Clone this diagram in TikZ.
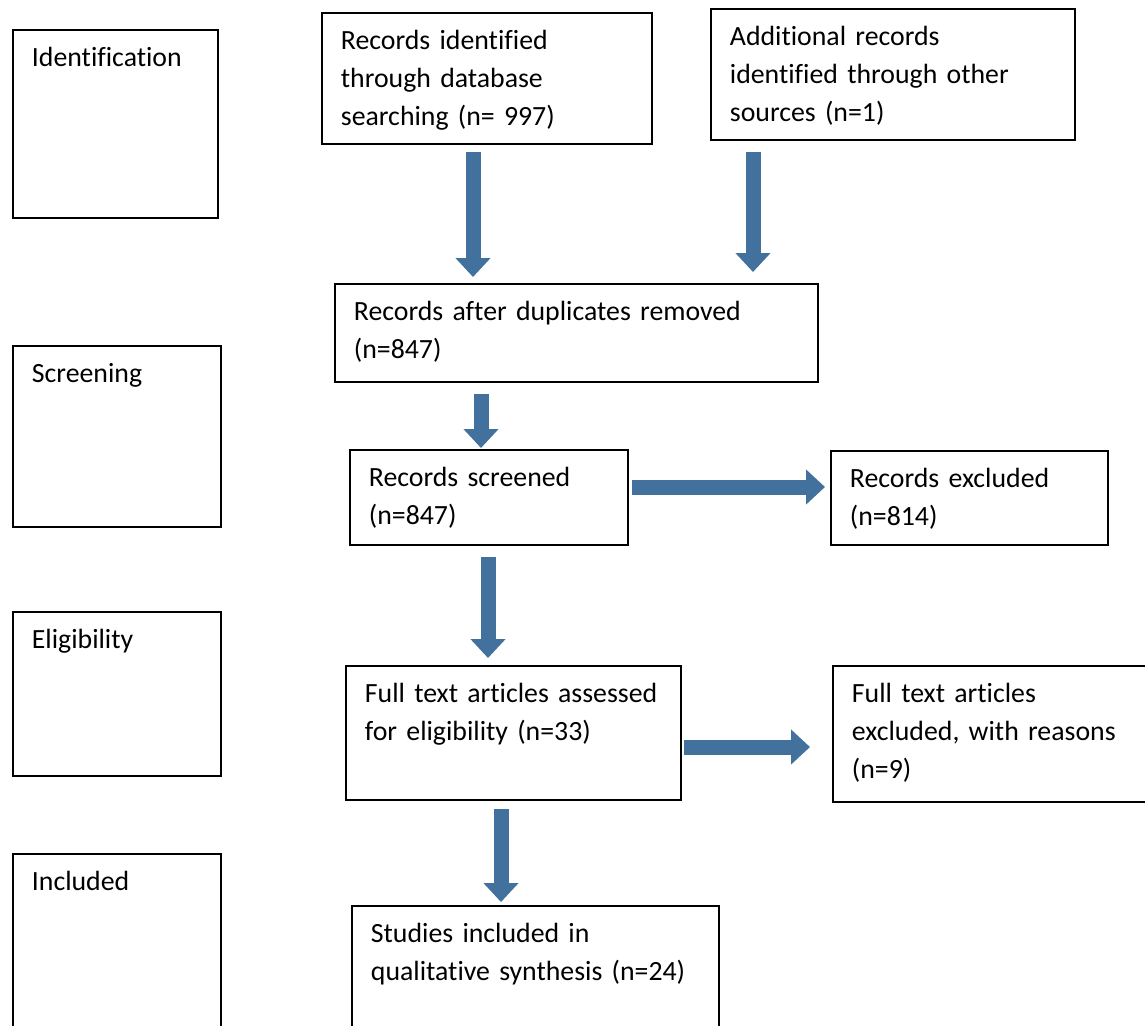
\documentclass[tikz,border=0pt]{standalone}
\usepackage{fontspec}
\setmainfont[Ligatures=NoCommon]{Carlito}
\usetikzlibrary{arrows.meta}
\definecolor{arrowblue}{RGB}{65,113,156}
\tikzset{
	box/.style={draw, line width=0.9pt, anchor=north west, align=left,
		inner xsep=9.5pt, inner ysep=0pt, text height=18.5pt,
		font=\fontsize{13.9}{19}\selectfont}, % boxes with text in the upper left corner
	fatarrow/.style={draw=arrowblue, line width=7.5pt,
		-{Triangle[width=17pt, length=9.5pt]}}, % the thick blue arrows
}
\begin{document}
\begin{tikzpicture}[x=0.5pt, y=-0.5pt]
	\useasboundingbox (0,0) rectangle (1145,1025);
	\clip (0,0) rectangle (1145,1025);
	% stage boxes on the left
	\node[box, text width=83.5pt, text depth=75.5pt] at (12,29) (ident) {Identification};
	\node[box, text width=85pt, text depth=72pt] at (12,345) (screen) {Screening};
	\node[box, text width=85pt, text depth=63.5pt] at (12,611) (elig) {Eligibility};
	\node[box, text width=85pt, text depth=81.5pt] at (12,853) (incl) {Included};
	% flow boxes
	\node[box, text width=146pt, text depth=47pt] at (321,12) (dbrec)
		{Records identified\\through database\\searching (n= 997)};
	\node[box, text width=163pt, text depth=47pt] at (710,8) (otherrec)
		{Additional records\\identified through other\\sources (n=1)};
	\node[box, text width=222.5pt, text depth=30.5pt] at (334,283) (dedup)
		{Records after duplicates removed\\(n=847)};
	\node[box, text width=120pt, text depth=29pt] at (349,449) (screened)
		{Records screened\\(n=847)};
	\node[box, text width=119.5pt, text depth=28.5pt] at (830,450) (excl)
		{Records excluded\\(n=814)};
	\node[box, text width=148.5pt, text depth=48.5pt] at (345,665) (fulltext)
		{Full text articles assessed\\for eligibility (n=33)};
	\node[box, text width=146pt, text depth=49.5pt] at (832,665) (fullexcl)
		{Full text articles\\excluded, with reasons\\(n=9)};
	\node[box, text width=164.5pt, text depth=56.5pt] at (351,905) (studies)
		{Studies included in\\qualitative synthesis (n=24)};
	% arrows
	\draw[fatarrow, shorten <=3.5pt, shorten >=3pt] (dbrec.south -| 473,0) -- (dedup.north -| 473,0);
	\draw[fatarrow, shorten <=5.5pt, shorten >=5.5pt] (otherrec.south -| 753,0) -- (dedup.north -| 753,0);
	\draw[fatarrow, shorten <=5.5pt, shorten >=0.5pt] (dedup.south -| 481,0) -- (screened.north -| 481,0);
	\draw[fatarrow, shorten <=1.5pt, shorten >=2.5pt] (screened.east |- 0,487) -- (excl.west |- 0,487);
	\draw[fatarrow, shorten <=5.5pt, shorten >=3.5pt] (screened.south -| 488,0) -- (fulltext.north -| 488,0);
	\draw[fatarrow, shorten <=1pt, shorten >=11pt] (fulltext.east |- 0,747) -- (fullexcl.west |- 0,747);
	\draw[fatarrow, shorten <=4pt, shorten >=1.5pt] (fulltext.south -| 501,0) -- (studies.north -| 501,0);
\end{tikzpicture}
\end{document}
